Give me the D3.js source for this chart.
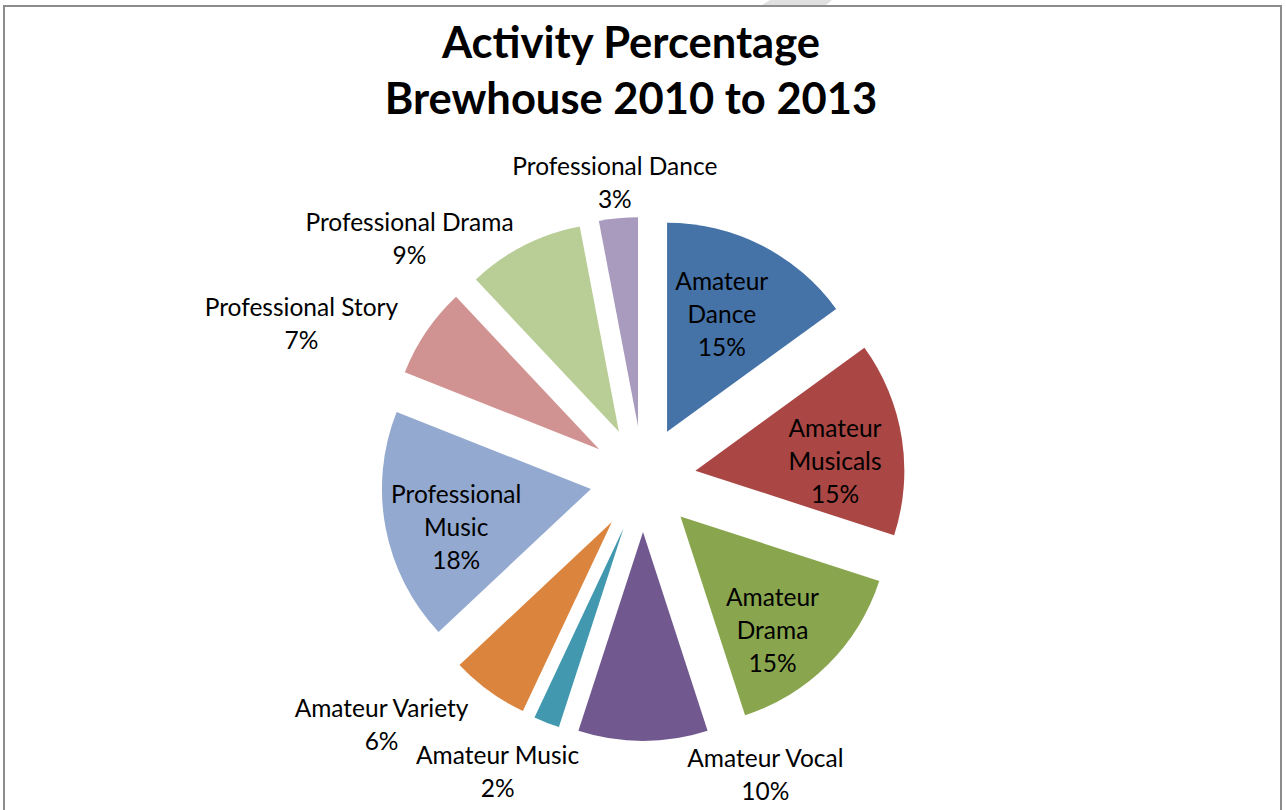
<!DOCTYPE html>
<html>
<head>
<meta charset="utf-8">
<script src="https://cdn.jsdelivr.net/npm/d3@7"></script>
<style>
	body { margin: 0; background: #fff; }
	svg text { font-family: Lato, "Open Sans", sans-serif; fill: #000; }
</style>
</head>
<body>
<div id="chart"></div>
<script>
const titleLines = ["Activity Percentage", "Brewhouse 2010 to 2013"];
const categories = [
	"Amateur Dance", "Amateur Musicals", "Amateur Drama", "Amateur Vocal", "Amateur Music",
	"Amateur Variety", "Professional Music", "Professional Story", "Professional Drama", "Professional Dance"
];
const shares = [15, 15, 15, 10, 2, 6, 18, 7, 9, 3];
const sliceColors = [
	"#4572a7", "#aa4643", "#89a54e", "#71588f", "#4198af",
	"#db843d", "#93a9cf", "#d19392", "#b9cd96", "#a99bbd"
];

// label placement, like excel did it: turn from the slice mid angle (deg) and distance in radii
const labelTurn = [-2, 5, 6, -27, 6, 13, -5, -11, -20, 0];
const labelDist = [0.62, 0.67, 0.70, 1.29, 1.30, 1.46, 0.67, 1.55, 1.37, 1.18];

const width = 1286, height = 810;
const cx = 643, cy = 479, radius = 209, explode = 53;
const lineH = 33;

const svg = d3.select("#chart")
	.append("svg")
	.attr("width", width)
	.attr("height", height);

// frame of the chart area
svg.append("polygon")
	.attr("points", "770,0 832,0 826,5 762,5")
	.style("fill", "#e0e0e0");
svg.append("rect")
	.attr("x", 4)
	.attr("y", 6)
	.attr("width", 1277)
	.attr("height", 820)
	.style("fill", "none")
	.style("stroke", "#8c8c8c")
	.style("stroke-width", 2);

svg.append("g")
	.selectAll("text")
	.data(titleLines)
	.enter().append("text")
	.attr("x", 631)
	.attr("y", (d, i) => 58 + i * 56)
	.attr("text-anchor", "middle")
	.style("font-size", "43.5px")
	.style("font-weight", "bold")
	.text(d => d);

const data = categories.map((c, i) => ({name: c, value: shares[i], color: sliceColors[i], turn: labelTurn[i], dist: labelDist[i]}));
const total = d3.sum(shares);
const pct = d3.format(".0%");

const pie = d3.pie().sort(null).value(d => d.value);
const arc = d3.arc().innerRadius(0).outerRadius(radius);

const slices = svg.append("g")
	.attr("transform", "translate(" + cx + "," + cy + ")")
	.selectAll("g.slice")
	.data(pie(data))
	.enter().append("g")
	.attr("class", "slice")
	.attr("transform", d => {
		let p = d3.arc().innerRadius(explode).outerRadius(explode).centroid(d);
		return "translate(" + p[0] + "," + p[1] + ")";
	});

slices.append("path")
	.attr("d", arc)
	.style("fill", d => d.data.color);

slices.each(function (d) {
	let mid = (d.startAngle + d.endAngle) / 2 + d.data.turn * Math.PI / 180;
	let r = d.data.dist * radius;
	let p = d3.arc().innerRadius(r).outerRadius(r).centroid({startAngle: mid, endAngle: mid});
	let lines;
	if (d.data.dist < 1) {
		lines = d.data.name.split(" ");
	} else {
		lines = [d.data.name];
	}
	lines.push(pct(d.data.value / total));
	let t = d3.select(this).append("text")
		.attr("text-anchor", "middle")
		.style("font-size", "24.5px");
	lines.forEach((l, i) => {
		t.append("tspan")
			.attr("x", p[0])
			.attr("y", p[1] + (i - (lines.length - 1) / 2) * lineH + (d.data.dist < 1 ? 9 : 11))
			.text(l);
	});
});
</script>
</body>
</html>
